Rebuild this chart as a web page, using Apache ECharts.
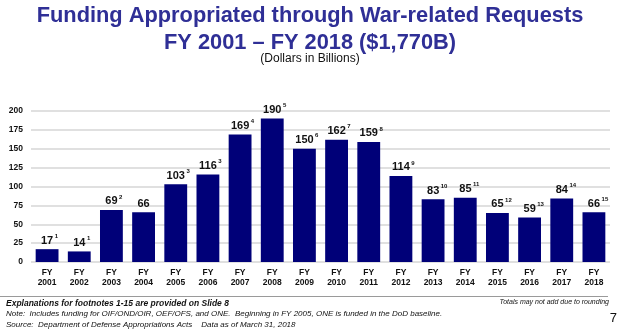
<!DOCTYPE html>
<html><head><meta charset="utf-8">
<script src="https://cdn.jsdelivr.net/npm/echarts@6/dist/echarts.min.js"></script>
<style>html,body{margin:0;padding:0;background:#fff}#c{width:620px;height:329px}</style>
</head><body><div id="c"></div>
<script>
const categories = ['2001','2002','2003','2004','2005','2006','2007','2008','2009','2010','2011','2012','2013','2014','2015','2016','2017','2018'];
const values = [17,14,69,66,103,116,169,190,150,162,159,114,83,85,65,59,84,66];
const footnotes = ['1','1','2','','3','3','4','5','6','7','8','9','10','11','12','13','14','15'];
const yTicks = [0,25,50,75,100,125,150,175,200];

const chart = echarts.init(document.getElementById('c'), null, {renderer:'canvas'});
const FONT = '"Liberation Sans", Arial, sans-serif';
const TITLE_C = '#2f2f96';

const data = values.map((v,i)=>({value:v, fn:footnotes[i]}));

chart.setOption({
  animation:false,
  textStyle:{fontFamily:FONT},
  grid:{left:31, right:10, top:111, bottom:67, containLabel:false},
  xAxis:{type:'category', data:categories,
    axisTick:{show:false}, axisLine:{show:false},
    axisLabel:{formatter:v=>'FY\n'+v, fontFamily:FONT, fontWeight:'bold', fontSize:8.5, lineHeight:10.5, color:'#111', margin:5, interval:0}},
  yAxis:{type:'value', min:yTicks[0], max:yTicks[yTicks.length-1], interval:25,
    axisLine:{show:false}, axisTick:{show:false},
    axisLabel:{fontFamily:FONT, fontWeight:'bold', fontSize:8.5, color:'#111', margin:8},
    splitLine:{lineStyle:{color:'#d6d6d6', width:1.5}}},
  series:[{type:'bar', data:data, barCategoryGap:'29%',
    itemStyle:{color:'#000078'},
    label:{show:true, position:'top', distance:3,
      formatter:p=>{
        const fn = p.data.fn;
        if(!fn) return '{v|'+p.value+'}';
        return '{p'+fn.length+'|}{v|'+p.value+'}{s|'+fn+'}';
      },
      rich:{
        v:{fontFamily:FONT, fontWeight:'bold', fontSize:11, color:'#111', lineHeight:13, padding:[2,0,0,0], verticalAlign:'bottom'},
        s:{fontFamily:FONT, fontWeight:'bold', fontSize:6, color:'#111', lineHeight:6, verticalAlign:'top', padding:[0,0,0,1.5]},
        p1:{width:4.9, height:1},
        p2:{width:8.3, height:1}
      }}
  }],
  graphic:[
    {type:'text', left:'center', top:5, style:{text:'Funding Appropriated through War-related Requests', font:'bold 21.8px '+FONT, fill:TITLE_C}},
    {type:'text', left:'center', top:32, style:{text:'FY 2001 – FY 2018 ($1,770B)', font:'bold 21.8px '+FONT, fill:TITLE_C}},
    {type:'text', left:'center', top:53, style:{text:'(Dollars in Billions)', font:'12px '+FONT, fill:'#111'}},
    {type:'line', shape:{x1:0,y1:296.5,x2:608,y2:296.5}, style:{stroke:'#9a9a9a', lineWidth:1}},
    {type:'text', left:6, top:299, style:{text:'Explanations for footnotes 1-15 are provided on Slide 8', font:'italic bold 8.5px '+FONT, fill:'#111'}},
    {type:'text', left:6, top:310, style:{text:'Note:  Includes funding for OIF/OND/OIR, OEF/OFS, and ONE.  Beginning in FY 2005, ONE is funded in the DoD baseline.', font:'italic 8px '+FONT, fill:'#111'}},
    {type:'text', left:6, top:321, style:{text:'Source:  Department of Defense Appropriations Acts    Data as of March 31, 2018', font:'italic 8px '+FONT, fill:'#111'}},
    {type:'text', right:11, top:299, style:{text:'Totals may not add due to rounding', font:'italic 7px '+FONT, fill:'#111'}},
    {type:'text', right:3, top:312, style:{text:'7', font:'13px '+FONT, fill:'#111'}}
  ]
});
</script></body></html>
